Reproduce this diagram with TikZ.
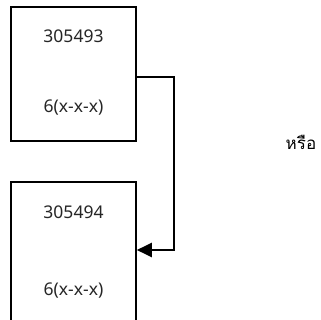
\documentclass[tikz,border=0pt]{standalone}
\usepackage{fontspec}
\setmainfont{Noto Sans}
\newfontfamily\thaifont[Script=Thai]{Loma}
\usetikzlibrary{arrows.meta}

\begin{document}
\begin{tikzpicture}[
    x=1pt, y=-1pt,
    box/.style={draw, rectangle, line width=1.6pt, minimum width=125pt, inner sep=0pt},
    num/.style={font=\fontsize{17.5}{20}\selectfont, text=black!85, inner sep=0pt},
    link/.style={line width=2pt, -{Triangle[length=15pt, width=14pt]}}
]
\useasboundingbox (0,0) rectangle (321,320);
\clip (0,0) rectangle (321,320);

% Blocks
\node[box, minimum height=134pt] (first) at (73.5,74) {};
\node[box, minimum height=150pt] (second) at (73.5,257) {};

% Texte in den Blocks
\node[num] (firstid) at (73.5,36) {305493};
\node[num] (firstcode) at (73.5,108) {6(x-x-x)};
\node[num] (secondid) at (73.5,212) {305494};
\node[num] (secondcode) at (73.5,291) {6(x-x-x)};

% Verbindung
\coordinate (bendtop) at (174,77);
\coordinate (bendbot) at (174,250);
\draw[link] (first.east |- bendtop) -- (bendtop) -- (bendbot) -- (second.east |- bendbot);

% oder
\node[font=\thaifont\fontsize{17}{20}\selectfont, inner sep=0pt] (alt) at (301,142) {หรือ};

\end{tikzpicture}
\end{document}
